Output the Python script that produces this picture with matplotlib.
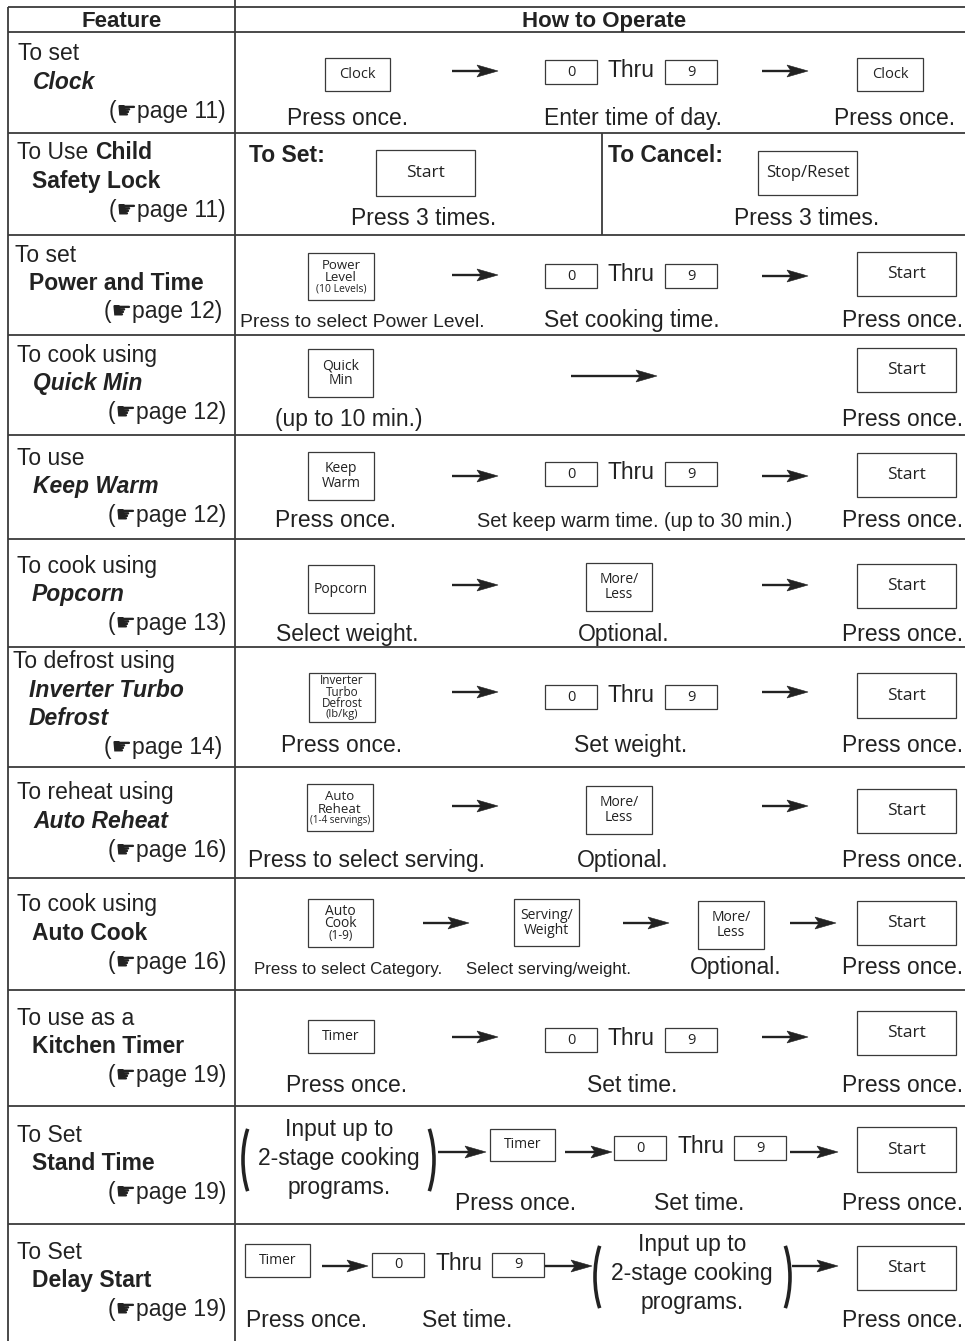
import math
import matplotlib
matplotlib.use("Agg")
import matplotlib.pyplot as plt
from matplotlib.patches import Rectangle, Polygon, Arc
from matplotlib import font_manager

# ---- table content -------------------------------------------------------
HEADERS = ["Feature", "How to Operate"]

FEATURE_LEAD = ["To set", "To Use", "To set", "To cook using", "To use",
                "To cook using", "To defrost using", "To reheat using",
                "To cook using", "To use as a", "To Set", "To Set"]
FEATURE_NAME = ["Clock", "Safety Lock", "Power and Time", "Quick Min",
                "Keep Warm", "Popcorn", "Inverter Turbo\nDefrost",
                "Auto Reheat", "Auto Cook", "Kitchen Timer", "Stand Time",
                "Delay Start"]
FEATURE_ITALIC = [True, False, False, True, True, True, True, True,
                  False, False, False, False]
PAGES = [11, 11, 12, 12, 12, 13, 14, 16, 16, 19, 19, 19]

CAPTIONS = [
    ["Press once.", "Enter time of day.", "Press once."],
    ["Press 3 times.", "Press 3 times."],
    ["Press to select Power Level.", "Set cooking time.", "Press once."],
    ["(up to 10 min.)", "Press once."],
    ["Press once.", "Set keep warm time. (up to 30 min.)", "Press once."],
    ["Select weight.", "Optional.", "Press once."],
    ["Press once.", "Set weight.", "Press once."],
    ["Press to select serving.", "Optional.", "Press once."],
    ["Press to select Category.", "Select serving/weight.", "Optional.", "Press once."],
    ["Press once.", "Set time.", "Press once."],
    ["Press once.", "Set time.", "Press once."],
    ["Press once.", "Set time.", "Press once."],
]
NARROW_CAPTIONS = {"Press to select Power Level.": 17,
                   "Set keep warm time. (up to 30 min.)": 17.5,
                   "Press to select Category.": 14.8,
                   "Select serving/weight.": 14.8}
PROGRAM_NOTE = ["Input up to", "2-stage cooking", "programs."]

# ---- layout (pixels) -----------------------------------------------------
W, H = 965, 1341
ROW_EDGES = [32, 133, 235, 335, 435, 539, 647, 767, 878, 990, 1106, 1224, 1341]
LEFT_BASE = [[60, 89, 118], [159, 188, 217], [262, 290, 318], [362, 390, 419],
             [465, 493, 522], [573, 601, 630], [668, 697, 725, 754],
             [799, 828, 857], [911, 940, 969], [1025, 1053, 1082],
             [1142, 1170, 1199], [1259, 1287, 1316]]
CAP_X = [[348, 633, 895], [424, 807], [362, 632, 903], [349, 903],
         [336, 635, 903], [347, 624, 903], [342, 631, 903], [367, 623, 903],
         [348, 548, 736, 903], [347, 632, 903], [516, 699, 903], [307, 467, 903]]
CAP_Y = [125, 225, 327, 426, 527, 641, 752, 867, 974, 1092, 1210, 1327]

INK = "#222222"
LINE = "#3a3a3a"
FS = 16.5


def has_font(name):
    try:
        font_manager.findfont(font_manager.FontProperties(family=name),
                              fallback_to_default=False)
        return True
    except Exception:
        return False


SANS = ["Liberation Sans", "DejaVu Sans"]
NARROW = "Liberation Sans Narrow" if has_font("Liberation Sans Narrow") else None
KEYF = ["Open Sans", "DejaVu Sans"]

fig = plt.figure(figsize=(W / 100, H / 100), dpi=100)
ax = fig.add_axes([0, 0, 1, 1])
ax.set_xlim(0, W)
ax.set_ylim(H, 0)
ax.axis("off")


def txt(x, y, s, size=FS, ha="left", weight="normal", style="normal", narrow=False):
    fam = SANS
    if narrow:
        if NARROW:
            fam = [NARROW, "DejaVu Sans"]
        else:
            size = size * 0.82
    ax.text(x, y, s, fontsize=size, ha=ha, va="baseline", family=fam,
            weight=weight, style=style, color=INK)


def key(x0, y0, x1, y1, lines, lh=1.08):
    ax.add_patch(Rectangle((x0, y0), x1 - x0, y1 - y0, fill=False, ec=LINE, lw=0.9))
    hs = [sz * 100 / 72 * lh for _, sz in lines]
    y = (y0 + y1) / 2 - sum(hs) / 2
    for (s, sz), h in zip(lines, hs):
        ax.text((x0 + x1) / 2, y + h / 2, s, ha="center", va="center",
                family=KEYF, fontsize=sz, color=INK)
        y += h


def arrow(x0, x1, y, head=21, hw=6, notch=4):
    ax.plot([x0, x1 - head + notch], [y, y], color=INK, lw=1.7, solid_capstyle="butt")
    ax.add_patch(Polygon([(x1, y), (x1 - head, y - hw), (x1 - head + notch, y),
                          (x1 - head, y + hw)], closed=True, fc=INK, ec=INK, lw=0.4))


def digits(x0, yc):
    key(x0, yc - 12, x0 + 52, yc + 12, [("0", 10.5)])
    txt(x0 + 63, yc + 5, "Thru")
    key(x0 + 120, yc - 12, x0 + 172, yc + 12, [("9", 10.5)])


def start(y0, y1):
    key(857, y0, 956, y1, [("Start", 12.5)])


def paren(x_edge, y0, y1, left=True, bulge=11, th=50):
    t = math.radians(th)
    b = (y1 - y0) / 2 / math.sin(t)
    a = bulge / (1 - math.cos(t))
    yc = (y0 + y1) / 2
    if left:
        ax.add_patch(Arc((x_edge + a, yc), 2 * a, 2 * b, theta1=180 - th,
                         theta2=180 + th, color=INK, lw=2.6))
    else:
        ax.add_patch(Arc((x_edge - a, yc), 2 * a, 2 * b, theta1=-th,
                         theta2=th, color=INK, lw=2.6))


def note(cx, base):
    for i, s in enumerate(PROGRAM_NOTE):
        txt(cx, base + i * 29, s, ha="center")


# ---- grid ----------------------------------------------------------------
lk = dict(color=LINE, lw=1.3, solid_capstyle="butt")
ax.plot([8, W], [7, 7], **lk)
for y in ROW_EDGES[:-1]:
    ax.plot([8, W], [y, y], **lk)
ax.plot([8, 8], [7, H], **lk)
ax.plot([235, 235], [0, H], **lk)
ax.plot([602, 602], [ROW_EDGES[1], ROW_EDGES[2]], **lk)

txt(122, 27, HEADERS[0], ha="center", weight="bold", size=16)
txt(604, 27, HEADERS[1], ha="center", weight="bold", size=16)

# ---- feature column --------------------------------------------------------
lead_x = [18, 17, 15, 17, 17, 17, 13, 17, 17, 17, 17, 17]
name_x = [33, 32, 29, 33, 33, 32, 29, 33, 32, 32, 32, 32]
page_x = [226, 226, 222, 226, 226, 226, 222, 226, 226, 226, 226, 226]
for i in range(12):
    base = LEFT_BASE[i]
    txt(lead_x[i], base[0], FEATURE_LEAD[i])
    if i == 1:
        txt(95, base[0], "Child", weight="bold")
    st = "italic" if FEATURE_ITALIC[i] else "normal"
    for j, part in enumerate(FEATURE_NAME[i].split("\n")):
        txt(name_x[i], base[1 + j], part, weight="bold", style=st)
    txt(page_x[i], base[-1], "(\u261bpage %d)" % PAGES[i], ha="right")

# ---- how to operate --------------------------------------------------------
# 1 clock
key(325, 58, 390, 91, [("Clock", 10.5)])
arrow(452, 498, 71)
digits(545, 72)
arrow(762, 808, 71)
key(857, 58, 923, 91, [("Clock", 10.5)])

# 2 child lock
txt(249, 162, "To Set:", weight="bold")
key(376, 150, 475, 196, [("Start", 12.5)])
txt(608, 162, "To Cancel:", weight="bold")
key(758, 151, 857, 195, [("Stop/Reset", 12)])

# 3 power and time
key(308, 253, 374, 300, [("Power", 9.5), ("Level", 9.5), ("(10 Levels)", 7.5)], lh=0.95)
arrow(452, 498, 275)
digits(545, 276)
arrow(762, 808, 276)
start(252, 296)

# 4 quick min
key(308, 349, 373, 397, [("Quick", 10), ("Min", 10)])
arrow(571, 657, 376)
start(348, 392)

# 5 keep warm
key(308, 452, 374, 500, [("Keep", 10), ("Warm", 10)])
arrow(452, 498, 476)
digits(545, 474)
arrow(762, 808, 476)
start(453, 497)

# 6 popcorn
key(308, 565, 374, 613, [("Popcorn", 10)])
arrow(452, 498, 585)
key(586, 563, 652, 611, [("More/", 10), ("Less", 10)])
arrow(762, 808, 585)
start(564, 608)

# 7 inverter turbo defrost
key(309, 673, 375, 722, [("Inverter", 8.5), ("Turbo", 8.5), ("Defrost", 8.5),
                         ("(lb/kg)", 8)], lh=0.98)
arrow(452, 498, 692)
digits(545, 697)
arrow(762, 808, 692)
start(673, 718)

# 8 auto reheat
key(307, 784, 373, 831, [("Auto", 9.5), ("Reheat", 9.5), ("(1-4 servings)", 7)], lh=0.95)
arrow(452, 498, 806)
key(586, 786, 652, 834, [("More/", 10), ("Less", 10)])
arrow(762, 808, 806)
start(789, 833)

# 9 auto cook
key(308, 899, 373, 947, [("Auto", 10), ("Cook", 10), ("(1-9)", 8.5)], lh=0.9)
arrow(423, 469, 923)
key(514, 899, 579, 946, [("Serving/", 10), ("Weight", 10)])
arrow(623, 669, 923)
key(698, 901, 764, 949, [("More/", 10), ("Less", 10)])
arrow(790, 836, 923)
start(901, 945)

# 10 kitchen timer
key(308, 1020, 374, 1053, [("Timer", 10)])
arrow(452, 498, 1037)
digits(545, 1040)
arrow(762, 808, 1037)
start(1011, 1055)

# 11 stand time
paren(243, 1115, 1205, left=True)
note(339, 1136)
paren(434, 1115, 1205, left=False)
arrow(438, 486, 1152)
key(490, 1129, 555, 1161, [("Timer", 10)])
arrow(565, 612, 1152)
digits(614, 1148)
arrow(790, 838, 1152)
start(1127, 1172)

# 12 delay start
key(245, 1244, 310, 1277, [("Timer", 10)])
arrow(322, 368, 1266)
digits(372, 1265)
arrow(545, 592, 1266)
paren(595, 1232, 1322, left=True)
note(692, 1251)
paren(790, 1232, 1322, left=False)
arrow(792, 838, 1266)
start(1246, 1290)

# captions under the keys
for i, caps in enumerate(CAPTIONS):
    for s, cx in zip(caps, CAP_X[i]):
        if s in NARROW_CAPTIONS:
            txt(cx, CAP_Y[i], s, ha="center", narrow=True, size=NARROW_CAPTIONS[s])
        else:
            txt(cx, CAP_Y[i], s, ha="center")

fig.savefig("out.png", dpi=100)
